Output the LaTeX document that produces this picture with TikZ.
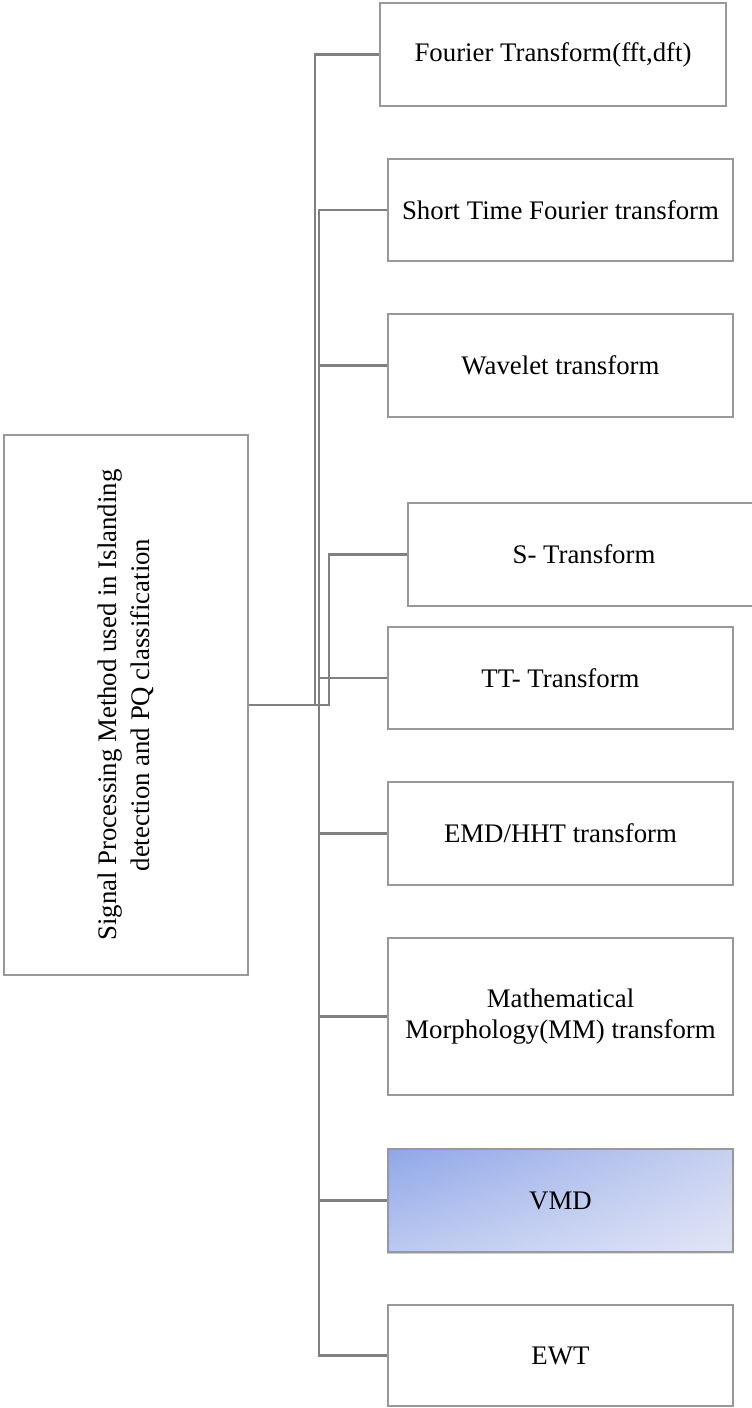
\documentclass[tikz,border=0pt]{standalone}
\usepackage{fontspec}
\setmainfont{Liberation Serif}
\usepackage{tikz}
\usetikzlibrary{shadings}
\definecolor{vmdtl}{RGB}{143, 166, 232}
\definecolor{vmdtr}{RGB}{198, 208, 240}
\definecolor{vmdbl}{RGB}{188, 202, 240}
\definecolor{vmdbr}{RGB}{226, 229, 246}
\begin{document}
\begin{tikzpicture}[x=1pt, y=-1pt,
      box/.style={draw=black!40, line width=2pt, fill=white,
                  minimum width=345pt, minimum height=103pt,
                  inner sep=0pt, align=center, anchor=center,
                  font=\fontsize{26.8}{31}\selectfont},
      conn/.style={draw=black!50, line width=2.2pt},
    ]
    \useasboundingbox (0,0) rectangle (752,1408);
    %% root box (left)
    \node[box, minimum width=540pt, minimum height=244pt, rotate=90,
          font=\fontsize{26.8}{32.5}\selectfont]
      (sp) at (126,705)
      {Signal Processing Method used in Islanding\\detection and PQ classification};
    %% method boxes (right)
    \node[box, minimum width=346pt] (ft) at (553,54.5) {Fourier Transform(fft,dft)};
    \node[box, minimum height=102pt] (stft) at (560.5,210) {Short Time Fourier transform};
    \node[box] (wt) at (560.5,365.5) {Wavelet transform};
    \node[box, minimum width=352pt] (st) at (584,554.5) {S- Transform};
    \node[box, minimum height=102pt] (tt) at (560.5,678) {TT- Transform};
    \node[box] (emd) at (560.5,833.5) {EMD/HHT transform};
    \node[box, minimum height=157pt] (mm) at (560.5,1016.5)
      {Mathematical\\Morphology(MM) transform};
    \node[box, fill=none, minimum height=103pt] (vmd) at (560.5,1200.5) {};
    \shade[upper left=vmdtl, upper right=vmdtr, lower left=vmdbl, lower right=vmdbr]
      (vmd.north west) rectangle (vmd.south east);
    \node[box, fill=none, minimum height=103pt] at (vmd) {VMD};
    \node[box, minimum height=101pt] (ewt) at (560.5,1355.5) {EWT};
    %% connectors
    \draw[conn] (sp.south) -- ++(66,0) |- (ft.west);
    \foreach \m in {stft,wt,tt,emd,mm,vmd,ewt}{
        \draw[conn] (sp.south) -- ++(70,0) |- (\m.west);
      }
    \draw[conn] (sp.south) -- ++(80,0) |- (st.west);
    \end{tikzpicture}
\end{document}
